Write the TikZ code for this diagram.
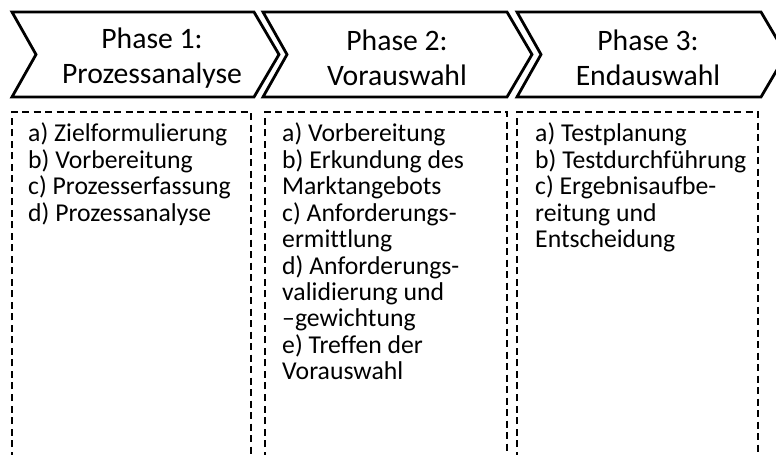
\documentclass[tikz,border=0pt]{standalone}
\usepackage{fontspec}
\setmainfont{Carlito}[Ligatures=NoCommon]
\begin{document}
\begin{tikzpicture}[x=1bp,y=-1bp,
  chev/.style={draw=black,line width=2.8bp,line join=miter,fill=white},
  dbox/.style={draw=black,line width=1.6bp,dash pattern=on 7bp off 4.5bp},
  head/.style={align=center,inner sep=0pt,font=\fontsize{29.8}{35}\selectfont},
  body/.style={align=left,anchor=north west,inner sep=0pt,font=\fontsize{25.8}{26.5}\selectfont}]
\useasboundingbox (0,0) rectangle (776,455);
\clip (0,0) rectangle (776,455);
\fill[white] (0,0) rectangle (776,455);
% chevrons
\draw[chev] (12,12) -- (254,12) -- (279,54.5) -- (254,97) -- (12,97) -- (36,54.5) -- cycle;
\draw[chev] (263,12) -- (507,12) -- (532,54.5) -- (507,97) -- (263,97) -- (287,54.5) -- cycle;
\draw[chev] (517,12) -- (761,12) -- (786,54.5) -- (761,97) -- (517,97) -- (541,54.5) -- cycle;
\node[head] (h1) at (152,58) {Phase 1:\\Prozessanalyse};
\node[head] (h2) at (397,58) {Phase 2:\\Vorauswahl};
\node[head] (h3) at (648,58) {Phase 3:\\Endauswahl};
% dashed boxes
\draw[dbox] (12,470) -- (12,112) -- (251,112) -- (251,470);
\draw[dbox] (265,470) -- (265,112) -- (507,112) -- (507,470);
\draw[dbox] (517,470) -- (517,112) -- (758,112) -- (758,470);
\node[body] (b1) at (28,123) {a) Zielformulierung\\b) Vorbereitung\\c) Prozesserfassung\\d) Prozessanalyse};
\node[body] (b2) at (282,123) {a) Vorbereitung\\b) Erkundung des\\Marktangebots\\c) Anforderungs-\\ermittlung\\d) Anforderungs-\\validierung und\\–gewichtung\\e) Treffen der\\Vorauswahl};
\node[body] (b3) at (535,123) {a) Testplanung\\b) Testdurchführung\\c) Ergebnisaufbe-\\reitung und\\Entscheidung};
\end{tikzpicture}
\end{document}
